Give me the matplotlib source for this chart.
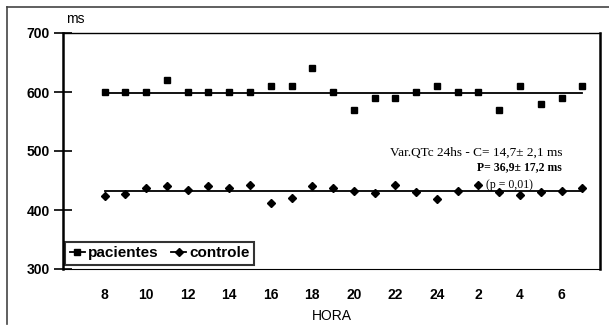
import matplotlib.pyplot as plt
from matplotlib.lines import Line2D

# hours of recording, 8h through 7h of the next day
horas = list(range(8, 32))
pacientes = [600, 600, 600, 620, 600, 600, 600, 600, 610, 610, 640, 600,
             570, 590, 590, 600, 610, 600, 600, 570, 610, 580, 590, 610]
controle = [424, 427, 437, 441, 434, 440, 437, 443, 412, 420, 441, 437,
            433, 429, 442, 430, 419, 433, 442, 430, 425, 430, 433, 438]
media_pacientes = 598
media_controle = 432

tick_pos = list(range(8, 32, 2))
tick_labels = ["8", "10", "12", "14", "16", "18", "20", "22", "24", "2", "4", "6"]
y_ticks = [300, 400, 500, 600, 700]

plt.rcParams['font.family'] = ['Liberation Sans', 'DejaVu Sans']

fig = plt.figure(figsize=(6.09, 3.27), dpi=100)
ax = fig.add_axes([63 / 609, 1 - 269 / 327, 537 / 609, 236 / 327])

ax.plot(horas, pacientes, 's', color='black', markersize=4.7)
ax.plot(horas, controle, 'D', color='black', markersize=3.6)
ax.plot([horas[0], horas[-1]], [media_pacientes] * 2, color='black', lw=1.3)
ax.plot([horas[0], horas[-1]], [media_controle] * 2, color='black', lw=1.3)

ax.set_xlim(6.0, 31.85)
ax.set_ylim(300, 700)
ax.set_xticks(tick_pos)
ax.set_xticklabels(tick_labels, fontweight='bold', fontsize=10)
ax.set_yticks(y_ticks)
ax.set_yticklabels([str(v) for v in y_ticks], fontweight='bold', fontsize=10)
ax.tick_params(axis='x', length=0, pad=14)
ax.tick_params(axis='y', direction='inout', length=13, width=1.2, pad=3)

ax.spines['left'].set_linewidth(1.8)
ax.spines['right'].set_linewidth(1.8)
ax.spines['top'].set_linewidth(1.0)
ax.spines['bottom'].set_linewidth(0.8)

ax.text(0.005, 1.03, "ms", transform=ax.transAxes, fontsize=10, va='bottom', ha='left')
ax.set_xlabel("HORA", fontsize=10, labelpad=5)

ax.text(30.05, 497, "Var.QTc 24hs - C= 14,7\u00b1 2,1 ms", family='Liberation Serif',
        fontsize=9.5, ha='right', va='center')
ax.text(30.0, 472, "P= 36,9\u00b1 17,2 ms", family='Liberation Serif',
        fontsize=8.5, fontweight='bold', ha='right', va='center')
ax.text(26.35, 443, "(p = 0,01)", family='Liberation Serif',
        fontsize=8.5, ha='left', va='center')

handles = [Line2D([], [], color='black', marker='s', markersize=4.7, lw=1.3),
           Line2D([], [], color='black', marker='D', markersize=3.6, lw=1.3)]
leg = ax.legend(handles, ["pacientes", "controle"], loc='lower left',
                bbox_to_anchor=(0.004, 0.017), borderaxespad=0, ncol=2,
                prop={'weight': 'bold', 'size': 11}, frameon=True, fancybox=False,
                handlelength=1.0, handletextpad=0.2, columnspacing=0.8,
                borderpad=0.3)
leg.get_frame().set_edgecolor('black')
leg.get_frame().set_linewidth(1.5)

# outer frame of the scanned figure
fig.add_artist(Line2D([7 / 609, 7 / 609], [1 - 7 / 327, 1 - 324 / 327],
                      transform=fig.transFigure, color='#444444', lw=1.2))
fig.add_artist(Line2D([7 / 609, 1.0], [1 - 7 / 327, 1 - 7 / 327],
                      transform=fig.transFigure, color='#444444', lw=1.2))

fig.savefig("out.png", dpi=100)
